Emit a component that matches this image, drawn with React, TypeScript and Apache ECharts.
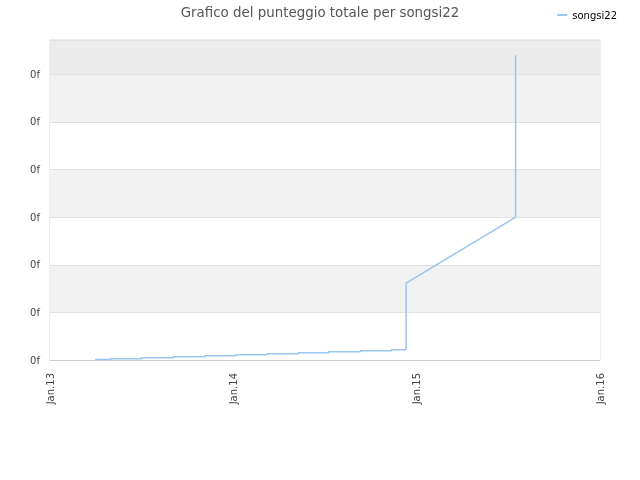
import { useEffect, useRef } from "react";
import * as echarts from "echarts";

// data (duplicate dates = vertical jumps)
const dates = [
  "2013-04-01", "2013-05-02", "2013-05-02", "2013-07-03", "2013-07-03",
  "2013-09-04", "2013-09-04", "2013-11-05", "2013-11-05", "2014-01-06",
  "2014-01-06", "2014-03-09", "2014-03-09", "2014-05-10", "2014-05-10",
  "2014-07-10", "2014-07-10", "2014-09-11", "2014-09-11", "2014-11-12",
  "2014-11-12", "2014-12-11", "2014-12-11", "2015-07-17", "2015-07-17",
];
const values = [
  0.008, 0.008, 0.027, 0.027, 0.048,
  0.048, 0.069, 0.069, 0.09, 0.09,
  0.111, 0.111, 0.132, 0.132, 0.153,
  0.153, 0.174, 0.174, 0.195, 0.195,
  0.216, 0.216, 1.615, 3.0, 6.4,
];
const xTickLabels = ["Jan.13", "Jan.14", "Jan.15", "Jan.16"];
const yTickLabel = "0f";
const seriesName = "songsi22";

const DAY = 86400000;
const origin = Date.parse("2013-01-01");
const toDays = (d: string) => (Date.parse(d) - origin) / DAY;

export default function App() {
  const chartRef = useRef<HTMLDivElement>(null);

  useEffect(() => {
    if (!chartRef.current) return;
    const chart = echarts.init(chartRef.current, undefined, { renderer: "svg" });
    const font = "DejaVu Sans, Verdana, sans-serif";

    chart.setOption({
      animation: false,
      textStyle: { fontFamily: font },
      title: {
        text: "Grafico del punteggio totale per songsi22",
        left: "center",
        top: 1,
        textStyle: { fontSize: 13.4, fontWeight: "normal", color: "#555", fontFamily: font },
      },
      legend: {
        right: 18,
        top: 5,
        itemWidth: 10,
        itemHeight: 2,
        itemGap: 10,
        icon: "rect",
        textStyle: { fontSize: 10, color: "#000", fontFamily: font },
        data: [seriesName],
      },
      grid: { left: 50, right: 40, top: 40, bottom: 120, show: true, borderColor: "#dcdcdc", borderWidth: 1 },
      xAxis: {
        type: "value",
        min: 0,
        max: 365 * 3,
        interval: 365,
        axisLine: { lineStyle: { color: "#cfcfcf" } },
        axisTick: { show: false },
        splitLine: { show: false },
        axisLabel: {
          rotate: 90,
          fontSize: 10,
          color: "#444",
          margin: 13,
          formatter: (v: number) => xTickLabels[Math.round(v / 365)] ?? "",
        },
      },
      yAxis: {
        type: "value",
        min: 0,
        max: 6.72,
        interval: 1,
        axisLine: { show: false },
        axisTick: { show: false },
        splitLine: { lineStyle: { color: "#e0e0e0" } },
        splitArea: {
          show: true,
          areaStyle: { color: ["#ffffff", "#f2f2f2", "#ffffff", "#f2f2f2", "#ffffff", "#f2f2f2", "#ececec"] },
        },
        axisLabel: { fontSize: 10, color: "#444", margin: 10, showMaxLabel: false, formatter: () => yTickLabel },
      },
      series: [
        {
          name: seriesName,
          type: "line",
          showSymbol: false,
          data: dates.map((d, i) => [toDays(d), values[i]]),
          lineStyle: { color: "#99c5f2", width: 1.5 },
          itemStyle: { color: "#99c5f2" },
        },
      ],
    });

    return () => chart.dispose();
  }, []);

  return <div ref={chartRef} style={{ position: "fixed", left: 0, top: 0, width: 640, height: 480 }} />;
}
